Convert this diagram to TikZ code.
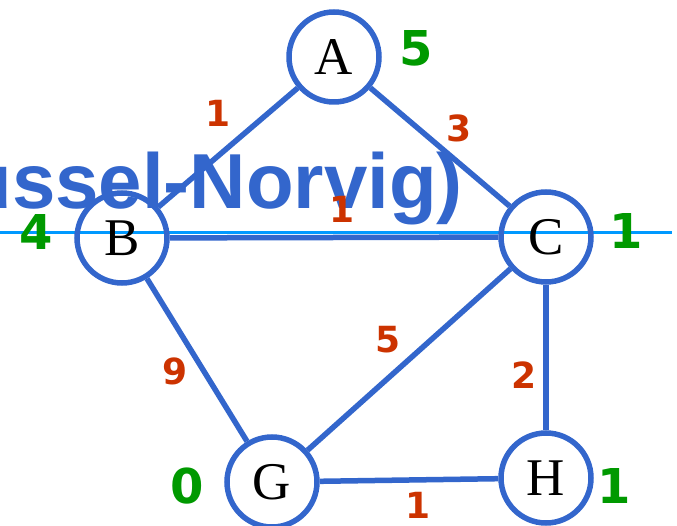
\documentclass[tikz,border=0pt]{standalone}
\usepackage{fontspec}
\setmainfont{Liberation Serif}
\newfontfamily\lsans{Liberation Sans}
\newfontfamily\dsans{DejaVu Sans}
\definecolor{nodeblue}{HTML}{3366CC}
\definecolor{wred}{HTML}{CC3300}
\definecolor{hgreen}{HTML}{009900}
\definecolor{lineblue}{HTML}{0099FF}
\begin{document}
\begin{tikzpicture}[x=1pt,y=-1pt,
  vert/.style={circle,draw=nodeblue,line width=5.5pt,minimum size=90pt,inner sep=0pt,font=\fontsize{53}{60}\selectfont},
  edge/.style={draw=nodeblue,line width=5.5pt},
  wt/.style={text=wred,font=\dsans\bfseries\fontsize{36}{40}\selectfont,inner sep=0pt},
  heur/.style={text=hgreen,font=\dsans\bfseries\fontsize{48}{56}\selectfont,inner sep=0pt}]
\useasboundingbox (0,0) rectangle (677,526);
\coordinate (lL) at (0,233);
\coordinate (lR) at (672,233);
\draw[lineblue,line width=3pt] (lL) -- (lR);
\node[text=nodeblue,font=\lsans\bfseries\fontsize{78}{80}\selectfont,anchor=base east,inner sep=0pt] (title) at (463,209) {ussel-Norvig)};
\node[vert] (A) at (334,57) {A};
\node[vert] (B) at (122,238) {B};
\node[vert] (C) at (546,237) {C};
\node[vert] (G) at (272,482) {G};
\node[vert] (H) at (546,478) {H};
\draw[edge] (A) -- (B);
\draw[edge] (A) -- (C);
\draw[edge] (B) -- (C);
\draw[edge] (B) -- (G);
\draw[edge] (C) -- (G);
\draw[edge] (C) -- (H);
\draw[edge] (G) -- (H);
\node[wt] (wab) at (218,113) {1};
\node[wt] (wac) at (459,128) {3};
\node[wt] (wbc) at (342,209) {1};
\node[wt] (wcg) at (388,340) {5};
\node[wt] (wbg) at (175,371) {9};
\node[wt] (wch) at (524,375) {2};
\node[wt] (wgh) at (418,505) {1};
\node[heur] (hA) at (416,48) {5};
\node[heur] (hB) at (36,232) {4};
\node[heur] (hC) at (626,231) {1};
\node[heur] (hG) at (187,486) {0};
\node[heur] (hH) at (614,486) {1};
\end{tikzpicture}
\end{document}
